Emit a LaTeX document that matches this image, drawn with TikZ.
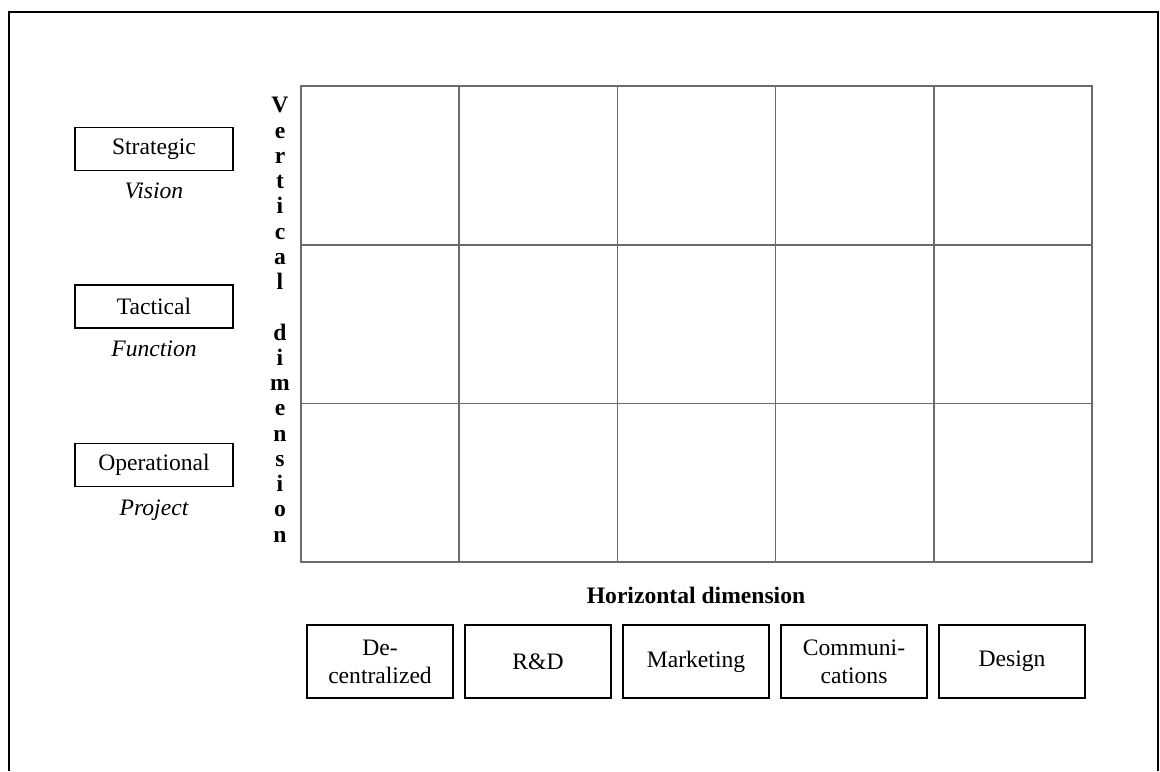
\documentclass[tikz,border=0pt]{standalone}
\usepackage{fontspec}
\setmainfont{Liberation Serif}
\tikzset{
  label text/.style={font=\fontsize{17.7}{21}\selectfont},
  levelbox/.style={draw=black, line width=1.1pt, label text,
    minimum width=118.5pt, minimum height=32.25pt, inner sep=0pt},
  unitbox/.style={draw=black, line width=1.1pt, label text, align=center,
    minimum width=109.5pt, minimum height=54.75pt, inner sep=0pt},
  levelname/.style={label text, font=\fontsize{17.7}{21}\selectfont\itshape, anchor=base},
  axisletter/.style={font=\fontsize{17.7}{21}\selectfont\bfseries, anchor=base, inner sep=0pt},
  gridline/.style={draw=black!58, line width=1.2pt},
  outerframe/.style={draw=black, line width=1.2pt}
}
\begin{document}
\begin{tikzpicture}[x=0.75pt, y=-0.75pt]
  \useasboundingbox (0,0) rectangle (1160,771);

  % outer frame, open at the bottom
  \draw[outerframe] (9,771) -- (9,12) -- (1158,12) -- (1158,771);

  % 3 x 5 matrix
  \draw[gridline] (301,86) rectangle (1092,562);
  \foreach \yy in {244.7,403.3} \draw[gridline] (301,\yy) -- (1092,\yy);
  \foreach \xx in {459.2,617.4,775.6,933.8} \draw[gridline] (\xx,86) -- (\xx,562);

  % levels of the vertical dimension
  \node[levelbox] (strategic)   at (154,149)   {Strategic};
  \node[levelbox] (tactical)    at (154,306.5) {Tactical};
  \node[levelbox] (operational) at (154,465)   {Operational};
  \node[levelname] (vision)   at (154,198)   {Vision};
  \node[levelname] (function) at (154,356.5) {Function};
  \node[levelname] (project)  at (154,515)   {Project};

  % vertical axis title, one letter per line
  \foreach \ch [count=\k from 0] in {V,e,r,t,i,c,a,l}
    \node[axisletter] (va\k) at (280,112.8+\k*25.26) {\ch};
  \foreach \ch [count=\k from 9] in {d,i,m,e,n,s,i,o,n}
    \node[axisletter] (vb\k) at (280,112.8+\k*25.26) {\ch};

  % horizontal axis title and units
  \node[axisletter] (hdim) at (696,603) {Horizontal dimension};
  \node[unitbox] (decentral) at (380,661.5)  {De-\\centralized};
  \node[unitbox] (rnd)       at (538,661.5)  {R\&D};
  \node[unitbox] (marketing) at (696,661.5)  {Marketing};
  \node[unitbox] (comms)     at (854,661.5)  {Communi-\\cations};
  \node[unitbox] (design)    at (1012,661.5) {Design};
\end{tikzpicture}
\end{document}
